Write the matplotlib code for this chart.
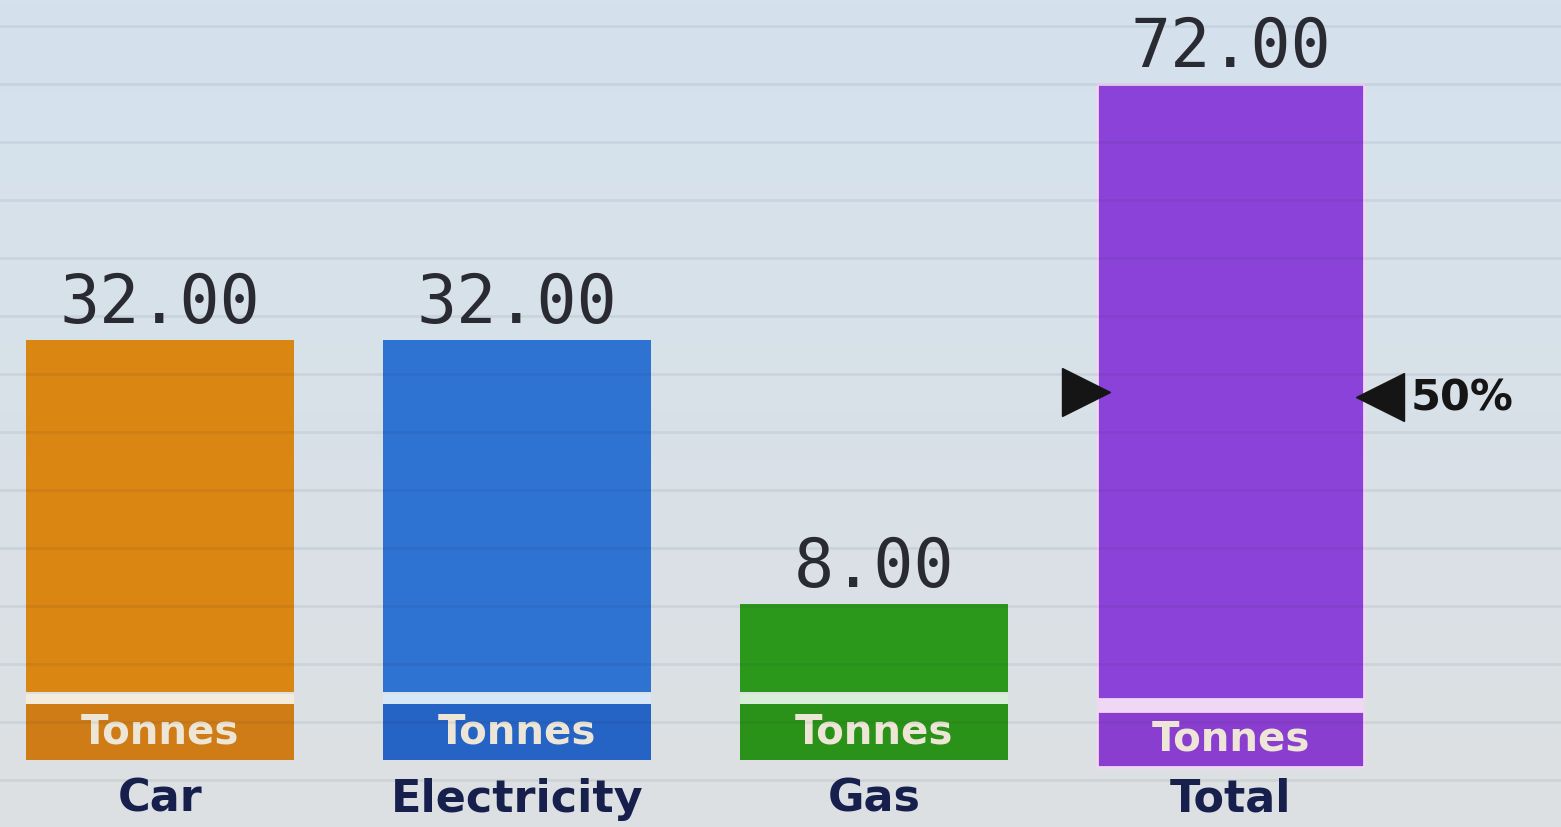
import matplotlib
matplotlib.use("Agg")
import matplotlib.pyplot as plt
import numpy as np
from matplotlib.lines import Line2D
from matplotlib.colors import LinearSegmentedColormap

# ---- data ----
categories = ["Car", "Electricity", "Gas", "Total"]
values = [32.00, 32.00, 8.00, 72.00]
unit_label = "Tonnes"
marker_fraction = 0.5          # 50% marker on the Total bar
marker_text = "50%"

# ---- style ----
bar_colors = ["#DA8612", "#2E72D2", "#2C981B", "#8B42D8"]
box_colors = ["#D07C16", "#2563C4", "#2A9218", "#8A3ECF"]
strip_colors = ["#F3EBDD", "#D6E8F8", "#D8EED8", "#F0D8F4"]
bg_top, bg_bottom = "#D4E2EE", "#DDE0E2"
W, H, DPI = 1561, 828, 100

fig = plt.figure(figsize=(W / DPI, H / DPI), dpi=DPI)
fig.patch.set_facecolor(bg_bottom)

# background gradient (screen)
bg = fig.add_axes([0, 0, 1, 1], zorder=-1)
bg.set_axis_off()
cmap = LinearSegmentedColormap.from_list("bg", [bg_bottom, bg_top])
bg.imshow(np.linspace(0, 1, 256).reshape(-1, 1), aspect="auto", cmap=cmap,
          origin="lower", extent=[0, 1, 0, 1])

ax = fig.add_axes([0, 0, 1, 1])
ax.patch.set_alpha(0)
ax2 = ax.twinx()
ax2.set_position([0, 0, 1, 1])
for a in (ax, ax2):
    a.set_axis_off()

x = list(range(len(categories)))
ax.set_xlim(-0.449, 3.926)

# main scale (Car/Electricity/Gas): baseline 135 px from bottom, 11 px per tonne
px_main = 11.0
base_main = 135
ax.set_ylim(-base_main / px_main, (H - base_main) / px_main)
# total scale: baseline 128 px from bottom, bar 615 px high
px_tot = 615 / values[3]
base_tot = 128
ax2.set_ylim(-base_tot / px_tot, (H - base_tot) / px_tot)

width = 0.75
gap_px, strip_px, box_px = 2, 10, 56

def draw_bar(a, xi, v, i, pxu):
    a.bar(xi, v, width, color=bar_colors[i], edgecolor=strip_colors[i] if i == 3 else "none",
          linewidth=2, zorder=1)
    # light strip and unit box below bar
    a.bar(xi, strip_px / pxu, width, bottom=-(gap_px + strip_px) / pxu,
          color=strip_colors[i], zorder=1)
    a.bar(xi, box_px / pxu, width, bottom=-(gap_px + strip_px + box_px) / pxu,
          color=box_colors[i], edgecolor=strip_colors[i] if i == 3 else "none",
          linewidth=2, zorder=1)
    a.text(xi, -(gap_px + strip_px + box_px / 2) / pxu, unit_label,
           ha="center", va="center", fontsize=29, fontweight="bold",
           color="#EDE6D6", family="DejaVu Sans", zorder=3)
    a.annotate(f"{v:.2f}", (xi, v), xytext=(0, 13), textcoords="offset points",
               ha="center", va="baseline", fontsize=48, color="#2A2A32",
               family="DejaVu Sans Mono", zorder=3)

for i in range(3):
    draw_bar(ax, x[i], values[i], i, px_main)
draw_bar(ax2, x[3], values[3], 3, px_tot)

# 50% markers
ym = values[3] * marker_fraction
ax2.plot([x[3] - 0.405], [ym], marker=">", ms=34, color="#151515", zorder=4, clip_on=False)
ax2.plot([x[3] + 0.42], [ym - 0.7], marker="<", ms=34, color="#151515", zorder=4, clip_on=False)
ax2.annotate(marker_text, (x[3] + 0.42, ym - 0.7), xytext=(22, 0), textcoords="offset points",
             ha="left", va="center", fontsize=31, fontweight="bold", color="#151515", zorder=4)

# category labels
for i, c in enumerate(categories):
    ax.text(x[i], 0.035, c, transform=ax.get_xaxis_transform(), ha="center", va="center",
            fontsize=32, fontweight="bold", color="#17204C", family="DejaVu Sans")

# screen scan lines
for ypx in range(27, H, 58):
    yf = 1 - ypx / H
    ax2.add_line(Line2D([0, 1], [yf, yf], transform=ax2.transAxes, color="#203040",
                        alpha=0.07, lw=2, zorder=2))

fig.savefig("out.png", dpi=DPI, facecolor=bg_bottom)
